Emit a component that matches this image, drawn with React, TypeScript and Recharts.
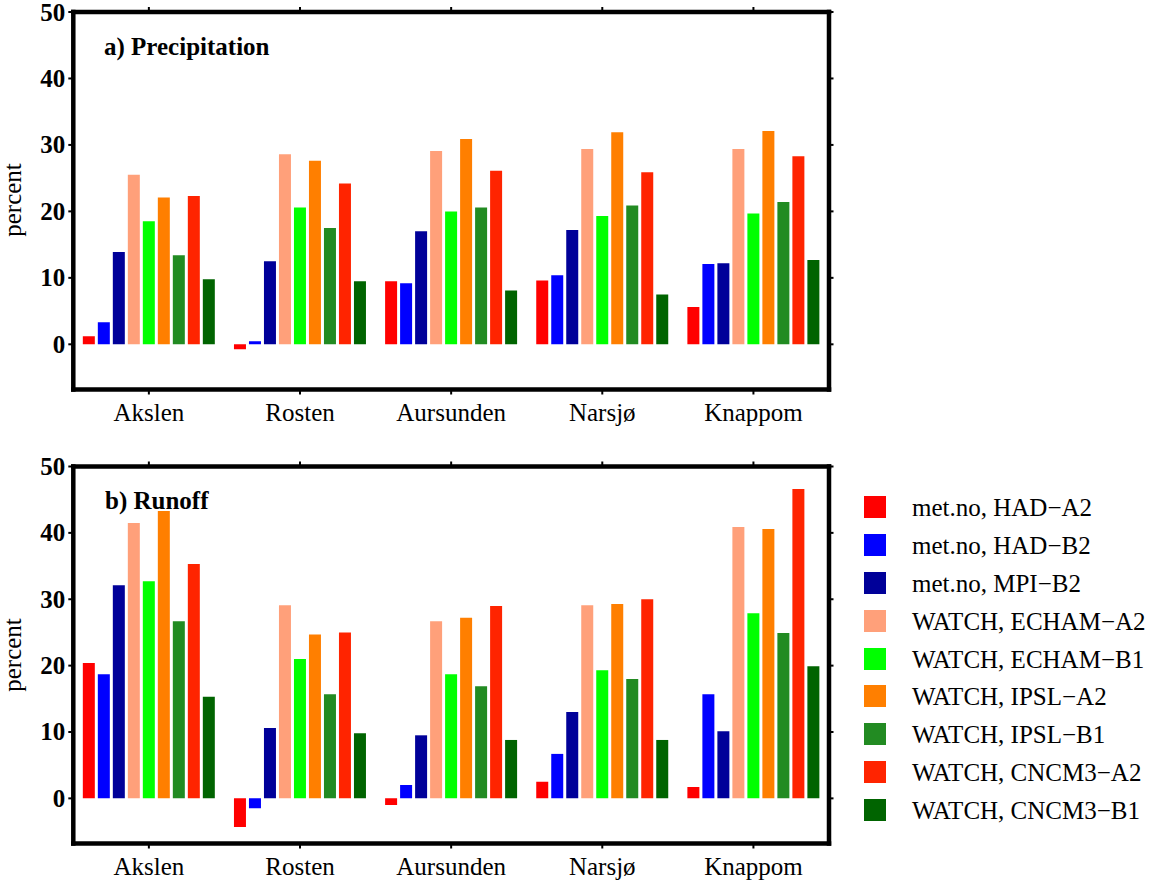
import React from 'react';
import { BarChart, Bar, XAxis, YAxis, Legend } from 'recharts';

const categories = ['Akslen', 'Rosten', 'Aursunden', 'Narsjø', 'Knappom'];

const seriesNames = [
  'met.no, HAD\u2212A2',
  'met.no, HAD\u2212B2',
  'met.no, MPI\u2212B2',
  'WATCH, ECHAM\u2212A2',
  'WATCH, ECHAM\u2212B1',
  'WATCH, IPSL\u2212A2',
  'WATCH, IPSL\u2212B1',
  'WATCH, CNCM3\u2212A2',
  'WATCH, CNCM3\u2212B1',
];

const seriesColors = [
  '#FF0000',
  '#0000FF',
  '#000099',
  '#FFA07A',
  '#00FF00',
  '#FF7F00',
  '#228B22',
  '#FF2400',
  '#006400',
];

const yTicks = [0, 10, 20, 30, 40, 50];

// a) Precipitation (percent)
const hadA2P = [1.2, -0.75, 9.5, 9.6, 5.6];
const hadB2P = [3.3, 0.45, 9.2, 10.4, 12.1];
const mpiB2P = [13.9, 12.5, 17.0, 17.2, 12.2];
const echA2P = [25.5, 28.6, 29.1, 29.4, 29.4];
const echB1P = [18.5, 20.6, 20.0, 19.3, 19.7];
const ipslA2P = [22.1, 27.6, 30.9, 31.9, 32.1];
const ipslB1P = [13.4, 17.5, 20.6, 20.9, 21.4];
const cncA2P = [22.3, 24.2, 26.1, 25.9, 28.3];
const cncB1P = [9.8, 9.5, 8.1, 7.5, 12.7];

// b) Runoff (percent)
const hadA2R = [20.4, -4.3, -1.0, 2.5, 1.7];
const hadB2R = [18.7, -1.5, 2.0, 6.7, 15.7];
const mpiB2R = [32.1, 10.6, 9.5, 13.0, 10.1];
const echA2R = [41.5, 29.1, 26.7, 29.1, 40.9];
const echB1R = [32.7, 21.0, 18.7, 19.3, 27.9];
const ipslA2R = [43.3, 24.7, 27.2, 29.3, 40.6];
const ipslB1R = [26.7, 15.7, 16.9, 18.0, 24.9];
const cncA2R = [35.3, 25.0, 29.0, 30.0, 46.6];
const cncB1R = [15.3, 9.8, 8.8, 8.8, 19.9];

const precipSeries = [hadA2P, hadB2P, mpiB2P, echA2P, echB1P, ipslA2P, ipslB1P, cncA2P, cncB1P];
const runoffSeries = [hadA2R, hadB2R, mpiB2R, echA2R, echB1R, ipslA2R, ipslB1R, cncA2R, cncB1R];

function buildRows(series: number[][]) {
  return categories.map((name, i) => {
    const row: Record<string, any> = { name };
    series.forEach((vals, s) => {
      row['s' + s] = vals[i];
    });
    return row;
  });
}

const FONT = 'Liberation Serif, Times New Roman, serif';
const frameLine = { stroke: '#000', strokeWidth: 4.5, strokeLinecap: 'square' as const };
const tickLineStyle = { stroke: '#000', strokeWidth: 2 };

function XTick(props: any) {
  const { x, y, payload } = props;
  return (
    <text x={x} y={y + 18} textAnchor="middle" fontFamily={FONT} fontSize={25} fill="#000">
      {payload.value}
    </text>
  );
}

function YTick(props: any) {
  const { x, y, payload } = props;
  return (
    <text x={x} y={y + 8.5} textAnchor="end" fontFamily={FONT} fontSize={25} fontWeight="bold" fill="#000">
      {payload.value}
    </text>
  );
}

function LegendBox() {
  return (
    <div style={{ fontFamily: FONT }}>
      {seriesNames.map((n, i) => (
        <div
          key={n}
          style={{ height: 37.8, display: 'flex', alignItems: 'center', whiteSpace: 'nowrap' }}
        >
          <div style={{ width: 22, height: 22, background: seriesColors[i], marginRight: 26, flex: 'none' }} />
          <span style={{ fontSize: 25, lineHeight: '22px', color: '#000', position: 'relative', top: 1 }}>{n}</span>
        </div>
      ))}
    </div>
  );
}

function Panel(props: {
  rows: any[];
  height: number;
  marginTop: number;
  xAxisHeight: number;
  legend?: boolean;
}) {
  const { rows, height, marginTop, xAxisHeight, legend } = props;
  return (
    <BarChart
      width={1166}
      height={height}
      data={rows}
      margin={{ top: 0, right: 327, bottom: 0, left: 0 }}
      barGap={3}
      barCategoryGap="6.3%"
    >
      <XAxis
        dataKey="name"
        xAxisId="b"
        orientation="bottom"
        height={xAxisHeight}
        interval={0}
        axisLine={frameLine}
        tickLine={tickLineStyle}
        tickSize={5}
        tickMargin={8}
        tick={<XTick />}
      />
      <XAxis
        dataKey="name"
        xAxisId="t"
        orientation="top"
        height={marginTop}
        interval={0}
        axisLine={frameLine}
        tickLine={tickLineStyle}
        tickSize={5}
        tickFormatter={() => ''}
      />
      <YAxis
        yAxisId="l"
        type="number"
        width={73.3}
        domain={[-6.8, 50]}
        ticks={yTicks}
        allowDataOverflow
        interval={0}
        axisLine={frameLine}
        tickLine={tickLineStyle}
        tickSize={5}
        tickMargin={3}
        tick={<YTick />}
      />
      <YAxis
        yAxisId="r"
        orientation="right"
        type="number"
        width={10}
        domain={[-6.8, 50]}
        ticks={yTicks}
        allowDataOverflow
        interval={0}
        axisLine={frameLine}
        tickLine={tickLineStyle}
        tickSize={4.5}
        tickFormatter={() => ''}
      />
      {seriesNames.map((n, s) => (
        <Bar
          key={n}
          dataKey={'s' + s}
          name={n}
          fill={seriesColors[s]}
          xAxisId="b"
          yAxisId="l"
          isAnimationActive={false}
        />
      ))}
      {legend && (
        <Legend
          layout="vertical"
          align="center"
          verticalAlign="middle"
          content={() => <LegendBox />}
          wrapperStyle={{ left: 864, top: 38.5, width: 300, height: 345 }}
        />
      )}
    </BarChart>
  );
}

export default function App() {
  const precipRows = buildRows(precipSeries);
  const runoffRows = buildRows(runoffSeries);
  return (
    <div style={{ position: 'absolute', left: 0, top: 0, width: 1166, height: 880, background: '#fff' }}>
      <div style={{ position: 'absolute', left: 0, top: 0 }}>
        <Panel rows={precipRows} height={450} marginTop={12} xAxisHeight={60.5} />
      </div>
      <div style={{ position: 'absolute', left: 0, top: 450 }}>
        <Panel rows={runoffRows} height={430} marginTop={16.5} xAxisHeight={36.5} legend />
      </div>
      <svg
        width={1166}
        height={880}
        style={{ position: 'absolute', left: 0, top: 0, pointerEvents: 'none' }}
      >
        <text x={104} y={55} fontFamily={FONT} fontSize={25} fontWeight="bold" fill="#000">
          a) Precipitation
        </text>
        <text x={105} y={509} fontFamily={FONT} fontSize={25} fontWeight="bold" fill="#000">
          b) Runoff
        </text>
        <text
          x={21}
          y={200}
          transform="rotate(-90 21 200)"
          textAnchor="middle"
          fontFamily={FONT}
          fontSize={25}
          fill="#000"
        >
          percent
        </text>
        <text
          x={21}
          y={655}
          transform="rotate(-90 21 655)"
          textAnchor="middle"
          fontFamily={FONT}
          fontSize={25}
          fill="#000"
        >
          percent
        </text>
      </svg>
    </div>
  );
}
